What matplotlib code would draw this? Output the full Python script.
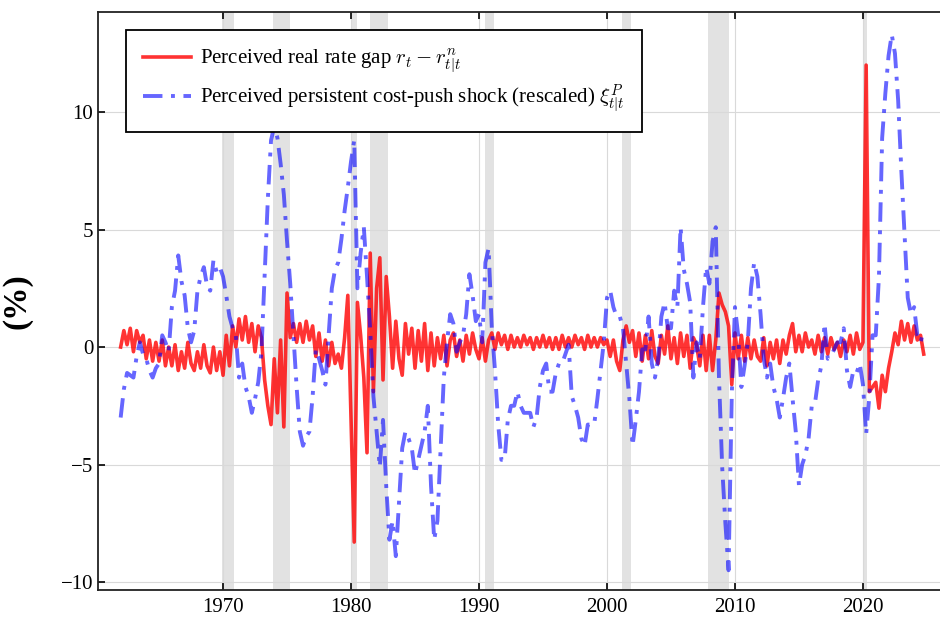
import numpy as np
import matplotlib
matplotlib.use("Agg")
import matplotlib.pyplot as plt

plt.rcParams['font.family'] = ['Liberation Serif', 'DejaVu Serif']
plt.rcParams['mathtext.fontset'] = 'cm'

# quarterly observations, first quarter = 1962Q1
start_year = 1962

# perceived real rate gap r_t - r^n_{t|t} (%)
real_rate_gap = [
    0.0, 0.7, 0.1, 0.8,   -0.2, 0.7, 0.2, 0.5,   -0.5, 0.3, -0.6, 0.2,   -0.6, 0.3, -0.8, 0.0,
    -0.8, 0.1, -1.0, -0.2,   -0.9, 0.2, -0.7, -1.0,   -0.2, -0.9, 0.1, -0.8,   -1.1, 0.0, -1.0, -0.2,
    -1.2, 0.5, -0.8, 0.9,   0.0, 1.2, 0.3, 1.3,   0.2, 1.0, -0.2, 0.9,   0.4, -1.4, -2.5, -3.3,
    -0.5, -2.8, 0.3, -3.4,   2.3, 0.4, 1.0, 0.2,   1.0, 0.2, 1.1, 0.3,   0.9, -0.4, 0.6, -0.6,
    0.3, -0.8, 0.2, -0.7,   -0.3, -0.9, 0.4, 2.2,   -3.1, -8.3, 1.9, 0.5,   -1.3, -4.5, 4.0, -1.9,
    2.5, 3.8, -1.4, 3.0,   1.3, -0.9, 1.1, -0.5,   -1.2, 1.0, -0.3, 0.8,   -0.9, 0.7, -0.6, 1.0,
    -1.0, 0.6, -0.8, 0.4,   -0.5, 0.5, -0.8, 0.3,   0.6, -0.4, 0.3, -0.6,   0.5, -0.3, 0.6, -0.1,
    -0.5, 0.4, -0.6, 0.3,   0.6, -0.1, 0.6, 0.1,   0.5, -0.1, 0.5, 0.0,   0.4, 0.0, 0.5, 0.1,
    0.4, -0.1, 0.4, 0.0,   0.5, 0.0, 0.4, -0.1,   0.4, -0.1, 0.5, 0.0,   0.4, 0.0, 0.5, 0.1,
    0.4, -0.1, 0.5, 0.0,   0.4, 0.0, 0.4, 0.1,   0.3, -0.4, 0.3, -0.6,   -1.0, 0.3, 0.9, 0.2,
    0.7, -0.4, 0.6, -0.6,   0.5, -0.5, 0.7, -0.4,   -0.7, 0.5, -0.3, 0.9,   -0.5, 0.4, -0.7, 0.6,
    -0.4, 0.5, -0.9, 0.4,   0.1, -0.8, 0.5, -1.0,   0.5, -1.0, 0.3, 2.3,   1.8, 1.5, 0.9, -1.6,
    0.6, -0.5, 0.5, -0.6,   0.4, -0.5, 0.3, -0.4,   -0.6, 0.4, -0.8, 0.2,   -0.5, 0.3, -0.7, 0.3,
    -0.3, 0.5, 1.0, -0.2,   0.5, -0.2, 0.6, 0.0,   0.3, -0.3, 0.5, -0.2,   0.4, -0.3, 0.4, -0.1,
    0.2, -0.4, 0.3, -0.2,   0.5, -0.3, 0.6, -0.1,   0.2, 12.0, -1.9, -1.7,   -1.5, -2.6, -1.2, -1.9,
    -0.9, -0.2, 0.6, 0.1,   1.1, 0.3, 1.0, 0.2,   0.9, 0.3, 0.5, -0.3,
]

# perceived persistent cost-push shock xi^P_{t|t}, rescaled
cost_push = [
    -3.0, -1.8, -1.1, -1.2,   -1.3, -0.4, 0.2, -0.3,   -0.5, -1.0, -1.3, -0.9,   -0.7, 0.5, 0.2, -0.2,
    1.7, 2.4, 3.9, 2.8,   2.2, 0.8, 0.2, 0.7,   2.4, 3.0, 3.4, 2.6,   2.4, 3.7, 3.2, 3.4,
    3.0, 2.2, 1.3, 0.8,   0.5, -1.3, -0.7, -1.7,   -2.1, -2.8, -2.2, -1.5,   -0.2, 3.0, 6.3, 8.8,
    9.4, 8.9, 7.8, 6.5,   4.5, 2.7, 0.5, -1.7,   -3.6, -4.2, -3.8, -3.6,   -2.1, -0.1, -0.5, -1.0,
    -1.6, 0.5, 2.5, 3.3,   3.6, 4.6, 5.8, 6.8,   7.9, 8.8, 2.5, 4.0,   5.1, 3.0, 0.7, -2.1,
    -3.6, -5.1, -3.1, -5.9,   -8.2, -7.4, -8.9, -6.6,   -4.3, -3.6, -3.9, -4.3,   -5.4, -4.8, -4.2, -3.6,
    -2.5, -5.9, -8.2, -7.4,   -4.3, -1.3, 0.2, 1.4,   1.0, -0.2, 0.2, 0.5,   1.4, 3.1, 2.2, 1.1,
    1.4, 0.2, 3.6, 4.2,   0.8, -1.0, -3.3, -4.8,   -4.8, -3.1, -2.5, -2.5,   -1.9, -2.5, -2.8, -2.8,
    -2.8, -3.4, -3.0, -1.7,   -1.0, -0.7, -1.9, -1.9,   -1.1, -0.7, -0.7, -0.3,   0.1, -2.1, -2.5, -3.0,
    -3.9, -4.2, -3.3, -3.3,   -3.3, -2.2, -1.0, 0.2,   2.1, 2.4, 1.7, 1.3,   1.3, 0.8, -0.7, -2.2,
    -4.2, -3.1, -1.9, -0.1,   -0.1, 1.3, -0.7, -1.3,   -0.5, 1.3, 1.9, 0.8,   0.8, 2.4, 1.7, 5.1,
    3.3, 2.7, 1.9, -1.3,   0.2, -0.5, 1.7, 3.4,   2.7, 4.5, 5.1, -1.3,   -5.1, -7.5, -9.5, -2.0,
    1.7, 0.5, -1.7, -0.8,   0.2, 2.5, 3.6, 3.0,   1.4, -0.5, -1.3, -0.7,   -1.7, -2.2, -3.0, -2.2,
    -1.3, -0.7, -2.2, -3.6,   -5.9, -5.0, -4.6, -3.9,   -2.5, -2.4, -1.4, -0.8,   1.0, -0.5, -0.4, -0.1,
    0.2, 0.2, 0.8, -1.0,   -1.7, -1.0, -1.1, -0.7,   -1.6, -3.7, -2.1, 0.5,   0.5, 3.0, 8.9, 10.8,
    12.4, 13.3, 12.5, 10.5,   7.5, 4.8, 2.1, 1.4,   1.7, 0.5, 0.2, 0.7,
]

# NBER recessions (start, end) in decimal years
recessions = [(1969.92, 1970.87), (1973.87, 1975.2), (1980.0, 1980.5), (1981.5, 1982.87),
              (1990.5, 1991.2), (2001.2, 2001.87), (2007.92, 2009.5), (2020.1, 2020.3)]

year_ticks = [1970, 1980, 1990, 2000, 2010, 2020]
value_ticks = [-10, -5, 0, 5, 10]

t = start_year + np.arange(len(real_rate_gap)) / 4

fig = plt.figure(figsize=(9.4, 6.17), dpi=100)
ax = fig.add_axes([98 / 940, 27 / 617, 842 / 940, 578 / 617])

for a, b in recessions:
    ax.axvspan(a, b, color='#e2e2e2', lw=0, zorder=0)

ax.grid(True, color='#d9d9d9', lw=0.8, zorder=0.5)

ax.plot(t, real_rate_gap, color='red', alpha=0.8, lw=2.6,
        label=r'Perceived real rate gap $r_t - r^n_{t|t}$', zorder=2)
ax.plot(t, cost_push, color='blue', alpha=0.6, lw=2.8, dashes=(5, 2.2, 1, 2.2),
        label=r'Perceived persistent cost-push shock (rescaled) $\xi^P_{t|t}$', zorder=3)

ax.set_xlim(1960.23, 2026.02)
ax.set_ylim(-10.34, 14.26)
ax.set_xticks(year_ticks)
ax.set_yticks(value_ticks)
ax.tick_params(axis='both', labelsize=15, direction='in', length=5, width=1.2, color='black')
ax.tick_params(axis='x', top=True, pad=6)
ax.spines['right'].set_visible(False)
for s in ['left', 'bottom', 'top']:
    ax.spines[s].set_linewidth(1.3)
    ax.spines[s].set_color('#222222')

ax.set_ylabel('(%)', fontsize=24, fontweight='bold', labelpad=20)

leg = ax.legend(loc='upper left', bbox_to_anchor=(0.033, 0.969), fontsize=15,
                fancybox=False, framealpha=1, edgecolor='black', handlelength=2.3,
                handletextpad=0.4, borderpad=0.85, labelspacing=0.35, borderaxespad=0)
leg.get_frame().set_linewidth(1.3)

fig.savefig('out.png', dpi=100)
